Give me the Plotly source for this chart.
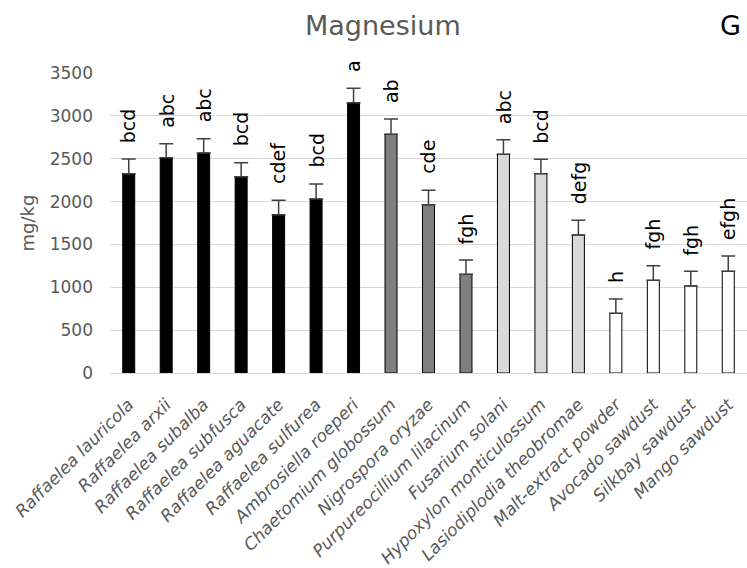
import plotly.graph_objects as go

# Magnesium content per substrate / fungal culture
categories = [
    "Raffaelea lauricola", "Raffaelea arxii", "Raffaelea subalba",
    "Raffaelea subfusca", "Raffaelea aguacate", "Raffaelea sulfurea",
    "Ambrosiella roeperi", "Chaetomium globossum", "Nigrospora oryzae",
    "Purpureocillium lilacinum", "Fusarium solani", "Hypoxylon monticulossum",
    "Lasiodiplodia theobromae", "Malt-extract powder", "Avocado sawdust",
    "Silkbay sawdust", "Mango sawdust",
]
means = [2326, 2512, 2567, 2291, 1847, 2030, 3154, 2785, 1964, 1151,
         2551, 2326, 1610, 696, 1081, 1015, 1186]
errors = [171, 164, 167, 163, 168, 175, 167, 178, 167, 167,
          171, 167, 171, 167, 171, 171, 179]
letters = ["bcd", "abc", "abc", "bcd", "cdef", "bcd", "a", "ab", "cde", "fgh",
           "abc", "bcd", "defg", "h", "fgh", "fgh", "efgh"]
groups = ["black"] * 7 + ["dark"] * 3 + ["light"] * 3 + ["white"] * 4

fill = {"black": "#000000", "dark": "#7f7f7f", "light": "#d9d9d9", "white": "#ffffff"}
FONT = "DejaVu Sans"
GRAY = "#595959"

fig = go.Figure()
fig.add_trace(go.Bar(
    x=categories,
    y=means,
    marker=dict(color=[fill[g] for g in groups],
                line=dict(color="#000000", width=1)),
    error_y=dict(type="data", symmetric=False, array=errors,
                 arrayminus=[0] * len(errors),
                 color="#404040", thickness=1.5, width=7),
    showlegend=False,
))

# significance letters above each error bar
for cat, m, e, lab in zip(categories, means, errors, letters):
    fig.add_annotation(
        x=cat, y=m + e, text=lab, textangle=-90,
        xanchor="center", yanchor="bottom", yshift=14,
        showarrow=False, font=dict(family=FONT, size=19, color="#000000"),
    )

fig.add_annotation(
    xref="paper", yref="paper", x=0.428, y=1.16, text="Magnesium",
    showarrow=False, xanchor="center", yanchor="middle",
    font=dict(family=FONT, size=27, color=GRAY),
)
fig.add_annotation(
    xref="paper", yref="paper", x=0.974, y=1.16, text="G",
    showarrow=False, xanchor="center", yanchor="middle",
    font=dict(family=FONT, size=27, color="#000000"),
)

fig.update_layout(
    width=747, height=568,
    margin=dict(l=110, r=0, t=73, b=195),
    paper_bgcolor="white", plot_bgcolor="white",
    bargap=0.68,
    font=dict(family=FONT, color=GRAY),
    xaxis=dict(
        tickangle=-45,
        tickfont=dict(family=FONT, size=17, color=GRAY, style="italic"),
        showline=True, linecolor="#d9d9d9", linewidth=1,
        showgrid=False, ticks="", ticklabelstandoff=14,
    ),
    yaxis=dict(
        range=[0, 3500], dtick=500,
        tickfont=dict(family=FONT, size=17, color=GRAY),
        showgrid=True, gridcolor="#d9d9d9", gridwidth=1,
        zeroline=False, ticks="", ticklabelstandoff=16,
        title=dict(text="mg/kg", font=dict(family=FONT, size=18, color=GRAY),
                   standoff=10),
    ),
)

fig.write_html("out.html")
